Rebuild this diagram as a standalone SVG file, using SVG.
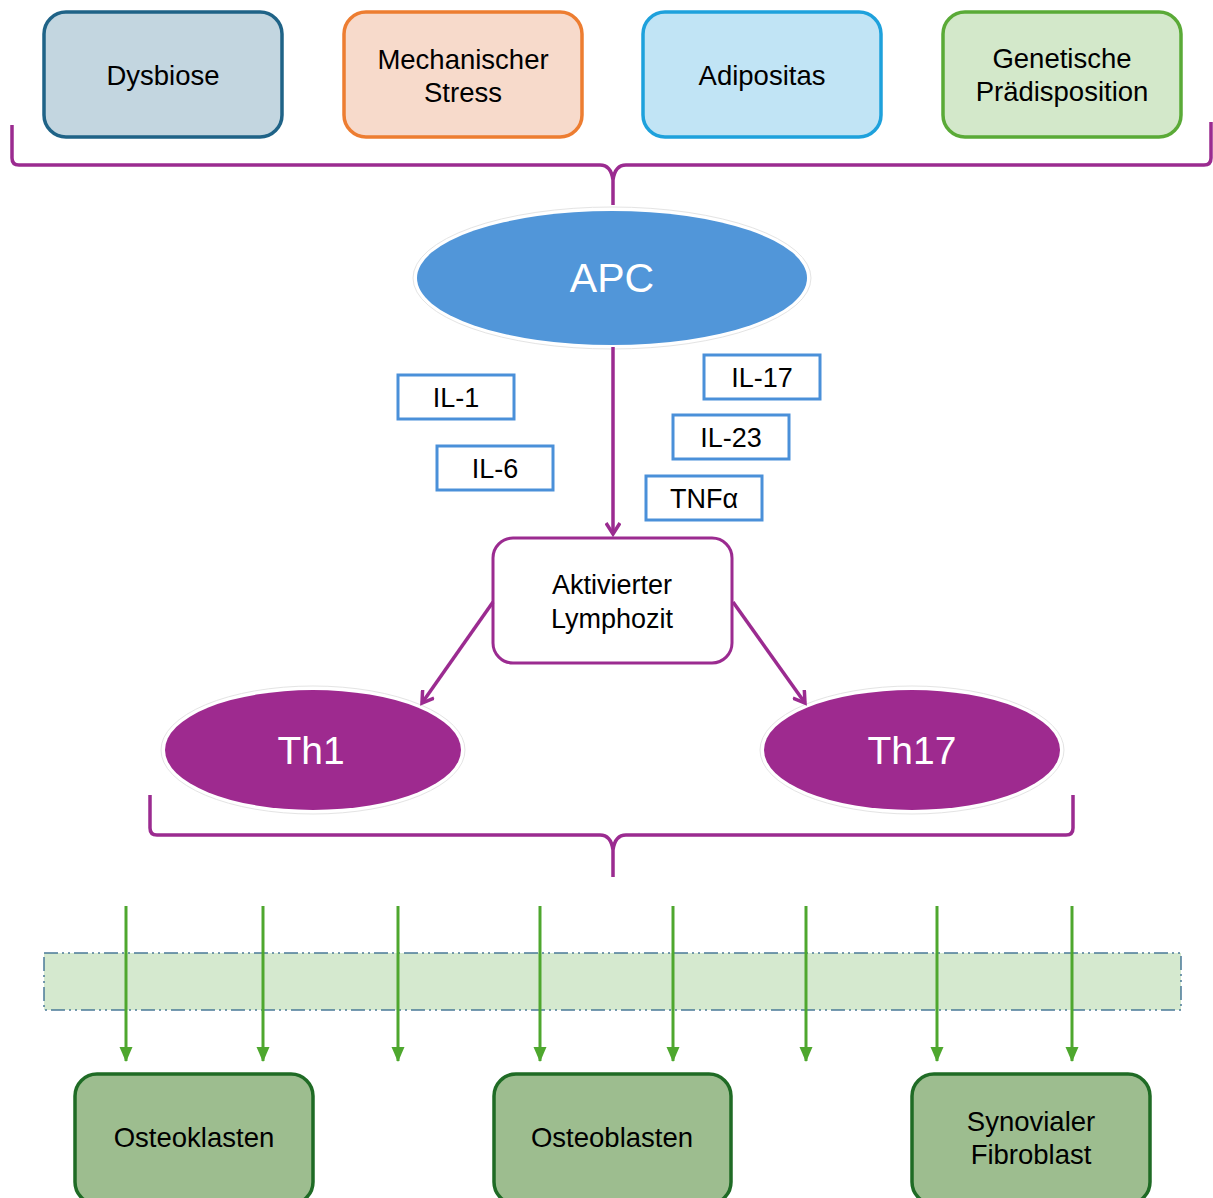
<svg xmlns="http://www.w3.org/2000/svg" width="1213" height="1198" viewBox="0 0 1213 1198">
<defs>
<style>
text{font-family:"Liberation Sans",Arial,sans-serif;text-anchor:middle;fill:#000}
.t24{font-size:27.5px}
.t22{font-size:27px}
.big{font-size:39px;fill:#fff}
.il{fill:#fff;stroke:#4a90d9;stroke-width:3}
.bot{fill:#9dbd8f;stroke:#1f6b25;stroke-width:3.5}
.pur{fill:none;stroke:#9b2b90;stroke-width:3.5}
.grn{stroke:#4ea72e;stroke-width:3}
.glow{fill:#fff;stroke:#e4e4e4;stroke-width:1}
</style>
<marker id="open" markerWidth="16" markerHeight="16" refX="12" refY="8" orient="auto" markerUnits="userSpaceOnUse">
<path d="M1,1 L12,8 L1,15" fill="none" stroke="#9b2b90" stroke-width="3.5"/>
</marker>
<marker id="tri" markerWidth="16" markerHeight="16" refX="14" refY="8" orient="auto" markerUnits="userSpaceOnUse">
<path d="M0,1.5 L15,8 L0,14.5 Z" fill="#4ea72e"/>
</marker>
</defs>

<g id="dysbiose">
<rect x="44" y="12" width="238" height="125" rx="22" fill="#c3d6e0" stroke="#1f6387" stroke-width="3.5"/>
<text class="t24" x="163" y="85">Dysbiose</text>
</g>
<g id="mechanischer-stress">
<rect x="344" y="12" width="238" height="125" rx="22" fill="#f7dacb" stroke="#ed7d31" stroke-width="3.5"/>
<text class="t24" x="463" y="69">Mechanischer</text>
<text class="t24" x="463" y="102">Stress</text>
</g>
<g id="adipositas">
<rect x="643" y="12" width="238" height="125" rx="22" fill="#c1e4f5" stroke="#1ea1dc" stroke-width="3.5"/>
<text class="t24" x="762" y="85">Adipositas</text>
</g>
<g id="genetische">
<rect x="943" y="12" width="238" height="125" rx="22" fill="#d3e8ca" stroke="#5aaa37" stroke-width="3.5"/>
<text class="t24" x="1062" y="68">Genetische</text>
<text class="t24" x="1062" y="101">Prädisposition</text>
</g>

<g id="apc">
<ellipse class="glow" cx="612" cy="278" rx="199" ry="71"/>
<ellipse cx="612" cy="278" rx="195" ry="67" fill="#5196d9"/>
<text class="big" x="612" y="292" style="font-size:41px">APC</text>
</g>

<g id="il-1"><rect class="il" x="398" y="375" width="116" height="44"/><text class="t22" x="456" y="407">IL-1</text></g>
<g id="il-6"><rect class="il" x="437" y="446" width="116" height="44"/><text class="t22" x="495" y="478">IL-6</text></g>
<g id="il-17"><rect class="il" x="704" y="355" width="116" height="44"/><text class="t22" x="762" y="387">IL-17</text></g>
<g id="il-23"><rect class="il" x="673" y="415" width="116" height="44"/><text class="t22" x="731" y="447">IL-23</text></g>
<g id="tnfa"><rect class="il" x="646" y="476" width="116" height="44"/><text class="t22" x="704" y="508">TNFα</text></g>

<g id="lymphozit">
<rect x="493" y="538" width="239" height="125" rx="20" fill="#fff" stroke="#9b2b90" stroke-width="3"/>
<text class="t22" x="612" y="594">Aktivierter</text>
<text class="t22" x="612" y="628">Lymphozit</text>
</g>

<g id="th1">
<ellipse class="glow" cx="313" cy="750" rx="152" ry="64"/>
<ellipse cx="313" cy="750" rx="148" ry="60" fill="#9e2a8f"/>
<text class="big" x="311" y="764">Th1</text>
</g>
<g id="th17">
<ellipse class="glow" cx="912" cy="750" rx="152" ry="64"/>
<ellipse cx="912" cy="750" rx="148" ry="60" fill="#9e2a8f"/>
<text class="big" x="912" y="764">Th17</text>
</g>

<g id="band">
<rect x="44" y="953" width="1137" height="57" fill="#d5e9cf" stroke="#4a7a98" stroke-width="1.5" stroke-dasharray="14,4,2,4,2,4"/>
</g>

<g id="osteoklasten">
<rect class="bot" x="75" y="1074" width="238" height="130" rx="22"/>
<text class="t24" x="194" y="1147">Osteoklasten</text>
</g>
<g id="osteoblasten">
<rect class="bot" x="494" y="1074" width="237" height="130" rx="22"/>
<text class="t24" x="612" y="1147">Osteoblasten</text>
</g>
<g id="synovialer-fibroblast">
<rect class="bot" x="912" y="1074" width="238" height="130" rx="22"/>
<text class="t24" x="1031" y="1131">Synovialer</text>
<text class="t24" x="1031" y="1164">Fibroblast</text>
</g>

<g id="connectors">
<path class="pur" d="M12,125 L12,158 Q12,165 19,165 L600,165 Q611,165 613,180 L613,205 M613,180 Q615,165 626,165 L1204,165 Q1211,165 1211,158 L1211,122"/>
<path class="pur" d="M150,795 L150,828 Q150,835 157,835 L600,835 Q611,835 613,850 L613,877 M613,850 Q615,835 626,835 L1066,835 Q1073,835 1073,828 L1073,795"/>
<line class="pur" x1="613" y1="347" x2="613" y2="534" marker-end="url(#open)"/>
<line class="pur" x1="493" y1="602" x2="422" y2="703" marker-end="url(#open)"/>
<line class="pur" x1="733" y1="602" x2="805" y2="703" marker-end="url(#open)"/>
<line class="grn" x1="126" y1="906" x2="126" y2="1061" marker-end="url(#tri)"/>
<line class="grn" x1="263" y1="906" x2="263" y2="1061" marker-end="url(#tri)"/>
<line class="grn" x1="398" y1="906" x2="398" y2="1061" marker-end="url(#tri)"/>
<line class="grn" x1="540" y1="906" x2="540" y2="1061" marker-end="url(#tri)"/>
<line class="grn" x1="673" y1="906" x2="673" y2="1061" marker-end="url(#tri)"/>
<line class="grn" x1="806" y1="906" x2="806" y2="1061" marker-end="url(#tri)"/>
<line class="grn" x1="937" y1="906" x2="937" y2="1061" marker-end="url(#tri)"/>
<line class="grn" x1="1072" y1="906" x2="1072" y2="1061" marker-end="url(#tri)"/>
</g>
</svg>
